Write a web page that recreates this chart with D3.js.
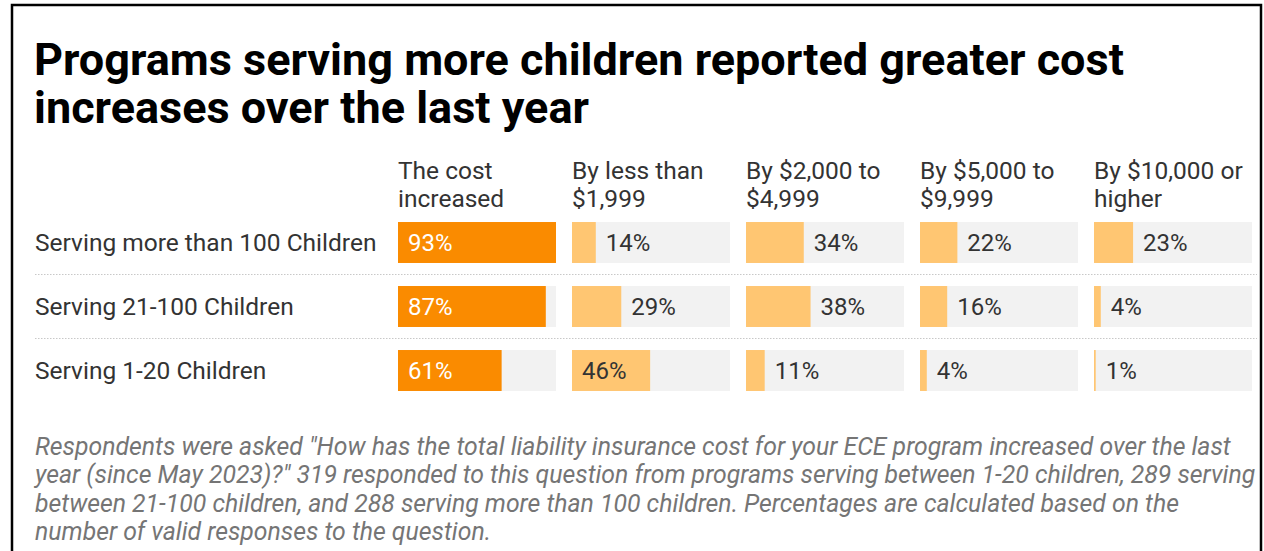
<!DOCTYPE html>
<html>
<head>
<meta charset="utf-8">
<script src="https://cdn.jsdelivr.net/npm/d3@7"></script>
<style>
  body { margin: 0; background: #fff; }
  svg { display: block; font-family: Roboto, "Noto Sans", sans-serif; }
</style>
</head>
<body>
<svg width="1264" height="551"></svg>
<script>
const titleLines = ["Programs serving more children reported greater cost", "increases over the last year"];
const groups = ["Serving more than 100 Children", "Serving 21-100 Children", "Serving 1-20 Children"];
const columns = [["The cost", "increased"], ["By less than", "$1,999"], ["By $2,000 to", "$4,999"], ["By $5,000 to", "$9,999"], ["By $10,000 or", "higher"]];
const costIncreased = [93, 87, 61];
const lessThan2k = [14, 29, 46];
const from2kTo5k = [34, 38, 11];
const from5kTo10k = [22, 16, 4];
const over10k = [23, 4, 1];
const notes = [
  "Respondents were asked \"How has the total liability insurance cost for your ECE program increased over the last",
  "year (since May 2023)?\" 319 responded to this question from programs serving between 1-20 children, 289 serving",
  "between 21-100 children, and 288 serving more than 100 children. Percentages are calculated based on the",
  "number of valid responses to the question."
];

const series = [costIncreased, lessThan2k, from2kTo5k, from5kTo10k, over10k];

const svg = d3.select("svg");

// frame
svg.append("rect")
  .attr("x", 12).attr("y", 5)
  .attr("width", 1249).attr("height", 560)
  .attr("fill", "#fff").attr("stroke", "#000").attr("stroke-width", 2.5);

// title
svg.append("g").selectAll("text")
  .data(titleLines)
  .join("text")
    .attr("x", 34)
    .attr("y", (d, i) => 75 + i * 48)
    .attr("font-size", 45)
    .attr("font-weight", 700)
    .attr("fill", "#000")
    .text(d => d);

const col = d3.scaleBand()
  .domain(d3.range(columns.length))
  .range([398, 1252])
  .paddingInner(0.092);

const row = d3.scaleBand()
  .domain(groups)
  .range([210.5, 402.5])
  .paddingInner(0.36)
  .paddingOuter(0.18);

const x = d3.scaleLinear()
  .domain([0, d3.max(series.flat())])
  .range([0, col.bandwidth()]);

// headers
const head = svg.append("g").selectAll("text")
  .data(columns)
  .join("text")
    .attr("x", (d, i) => col(i))
    .attr("font-size", 24.5)
    .attr("fill", "#333");
head.selectAll("tspan")
  .data(d => d)
  .join("tspan")
    .attr("x", function() { return d3.select(this.parentNode).attr("x"); })
    .attr("y", (d, i) => 179 + i * 28)
    .text(d => d);

// row labels
svg.append("g").selectAll("text")
  .data(groups)
  .join("text")
    .attr("x", 35)
    .attr("y", d => row(d) + row.bandwidth() / 2)
    .attr("dy", "0.35em")
    .attr("font-size", 24.5)
    .attr("fill", "#333")
    .text(d => d);

// dotted separators
svg.append("g").selectAll("line")
  .data(groups.slice(1))
  .join("line")
    .attr("x1", 35).attr("x2", 1257)
    .attr("y1", d => row(d) - (row.step() - row.bandwidth()) / 2)
    .attr("y2", d => row(d) - (row.step() - row.bandwidth()) / 2)
    .attr("stroke", "#c8c8c8")
    .attr("stroke-width", 1)
    .attr("stroke-dasharray", "1.5,1.5");

// cells
const cells = [];
series.forEach((vals, c) => vals.forEach((v, r) => cells.push({ c, r, v, g: groups[r] })));

const cell = svg.append("g").selectAll("g")
  .data(cells)
  .join("g")
    .attr("transform", d => `translate(${col(d.c)},${row(d.g)})`);

cell.append("rect")
  .attr("width", col.bandwidth())
  .attr("height", row.bandwidth())
  .attr("fill", "#f2f2f2");

cell.append("rect")
  .attr("width", d => x(d.v))
  .attr("height", row.bandwidth())
  .attr("fill", d => d.c === 0 ? "#fa8b00" : "#ffc672");

cell.append("text")
  .attr("font-size", 24)
  .attr("y", row.bandwidth() / 2)
  .attr("dy", "0.35em")
  .text(d => d.v + "%")
  .each(function(d) {
    const w = this.getComputedTextLength();
    const bw = x(d.v);
    const inside = d.c === 0 || bw > w + 28;
    d3.select(this)
      .attr("x", inside ? 10 : bw + 10)
      .attr("fill", d.c === 0 ? "#fff" : "#333");
  });

// notes
svg.append("g").selectAll("text")
  .data(notes)
  .join("text")
    .attr("x", 35)
    .attr("y", (d, i) => 455 + i * 28.3)
    .attr("font-size", 24.8)
    .attr("font-style", "italic")
    .attr("fill", "#757575")
    .text(d => d);
</script>
</body>
</html>
